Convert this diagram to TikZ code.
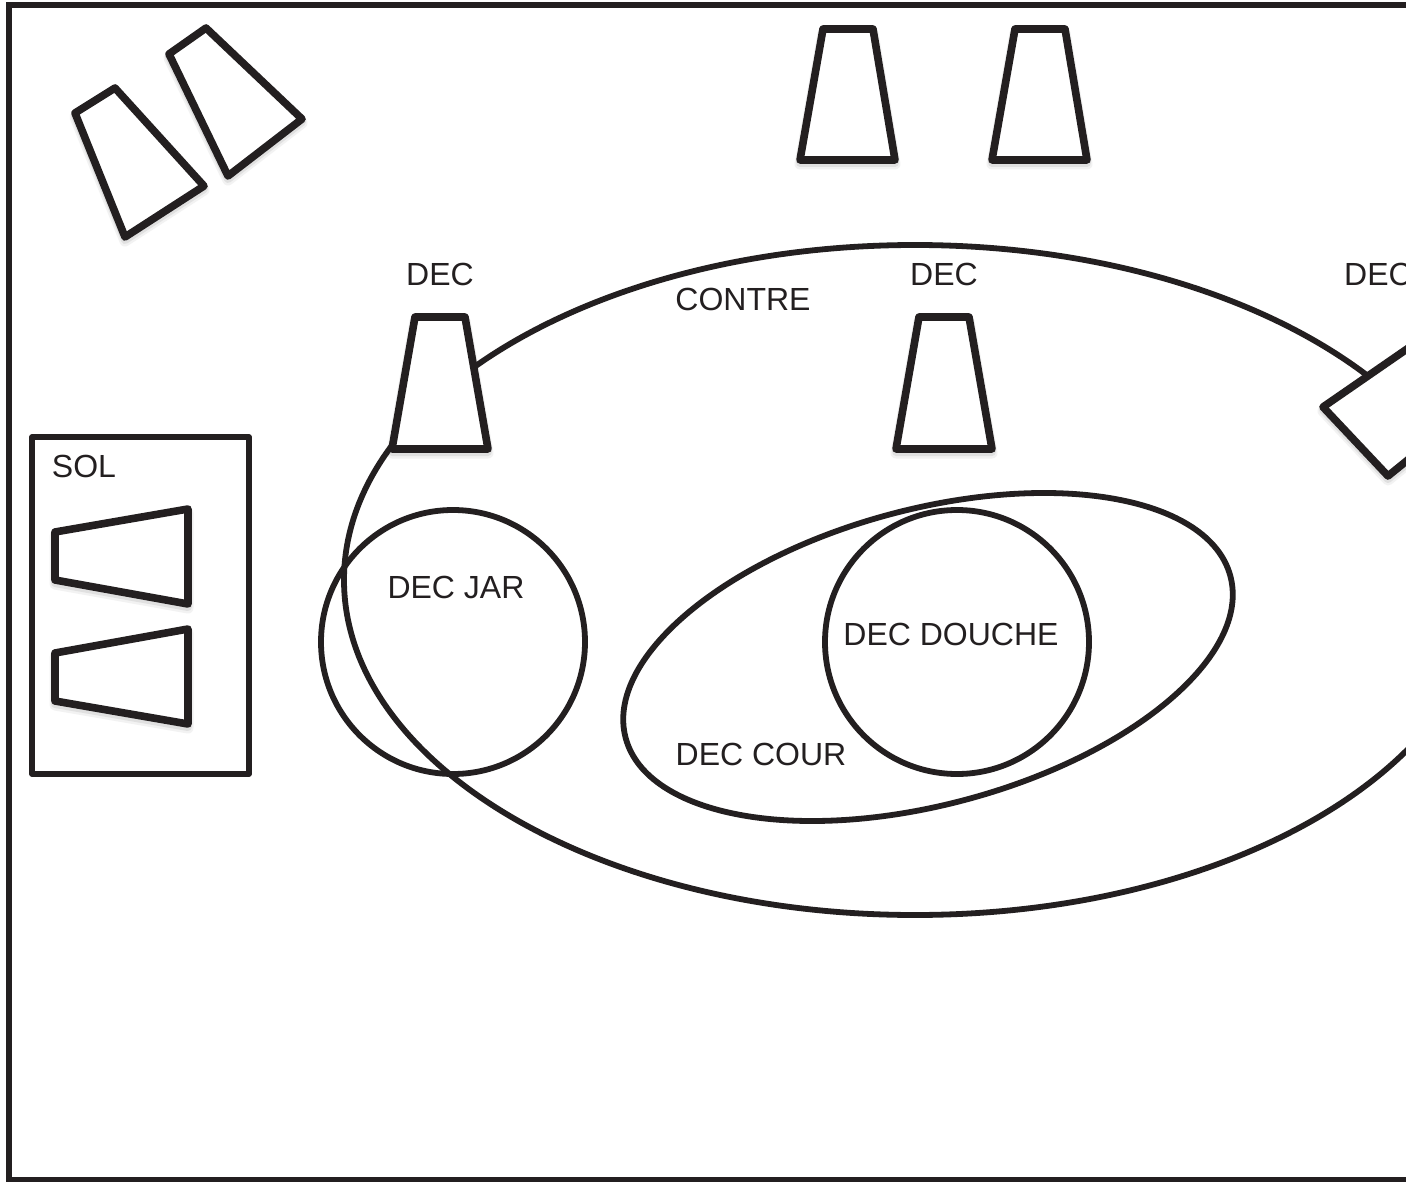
\documentclass[tikz,border=0pt]{standalone}
\usepackage{fontspec}
\setmainfont{Liberation Sans}
\definecolor{ink}{HTML}{231F20}
\tikzset{
  x=1pt,y=-1pt,
  frameline/.style={draw=ink,line width=6pt,line join=miter},
  boxline/.style={draw=ink,line width=5.2pt,line join=round},
  curveline/.style={draw=ink,line width=5.8pt},
  speaker/.style={draw=ink,line width=7.6pt,line join=round,fill=white},
  speakershadow/.style={draw=ink!14,line width=8pt,line join=round},
  speakerglow/.style={draw=ink!6,line width=11pt,line join=round}
}
\tikzset{lbl/.style={text=ink,font=\fontsize{32}{36}\selectfont,inner sep=0pt,anchor=center}}
\newcommand{\spkshade}[4]{%
  \draw[speakerglow] ([yshift=-4pt]#1) -- ([yshift=-4pt]#2) -- ([yshift=-4pt]#3) -- ([yshift=-4pt]#4) -- cycle;
  \draw[speakershadow] ([yshift=-3pt]#1) -- ([yshift=-3pt]#2) -- ([yshift=-3pt]#3) -- ([yshift=-3pt]#4) -- cycle;}
\newcommand{\spk}[4]{%
  \draw[speaker] (#1) -- (#2) -- (#3) -- (#4) -- cycle;}
\newcommand{\allspeakers}[1]{%
  #1{115,88}{204,186}{125,237}{75,113}
  #1{206,28}{302,119}{228,176}{169,54}
  #1{823,29}{873,29}{895,160}{800,160}
  #1{1015,29}{1065,29}{1087,160}{992,160}
  #1{415,317}{465,317}{488,449}{392,449}
  #1{919,317}{969,317}{992,449}{896,449}
  #1{1323,407}{1420,340}{1420,450}{1388,476}
  #1{55,532}{188,509}{188,604}{55,580}
  #1{55,653}{188,629}{188,724}{55,701}}
\begin{document}
\begin{tikzpicture}
\useasboundingbox (0,0) rectangle (1406,1182);
\clip (0,0) rectangle (1406,1182);
\fill[white] (0,0) rectangle (1406,1182);
\draw[frameline] (1420,5) -- (8.5,5) -- (8.5,1180) -- (1420,1180);
\draw[boxline] (32,437) rectangle (249,774);
\allspeakers{\spkshade}
% ellipses
\draw[curveline] (915,580) ellipse [x radius=571,y radius=335];
\draw[curveline,rotate around={15:(928,657)}] (928,657) ellipse [x radius=313,y radius=147.6];
\draw[curveline] (453,642) circle [radius=132];
\draw[curveline] (957,642) circle [radius=132];
% speakers
\allspeakers{\spk}
% labels
\node[lbl] (l1) at (440,274) {DEC};
\node[lbl] (l2) at (944,274) {DEC};
\node[lbl,anchor=west] (l3) at (1344,274) {DEC};
\node[lbl] (l4) at (743,299) {CONTRE};
\node[lbl] (l5) at (84,466) {SOL};
\node[lbl] (l6) at (456,587) {DEC JAR};
\node[lbl] (l7) at (951,634) {DEC DOUCHE};
\node[lbl] (l8) at (761,754) {DEC COUR};
\end{tikzpicture}
\end{document}
